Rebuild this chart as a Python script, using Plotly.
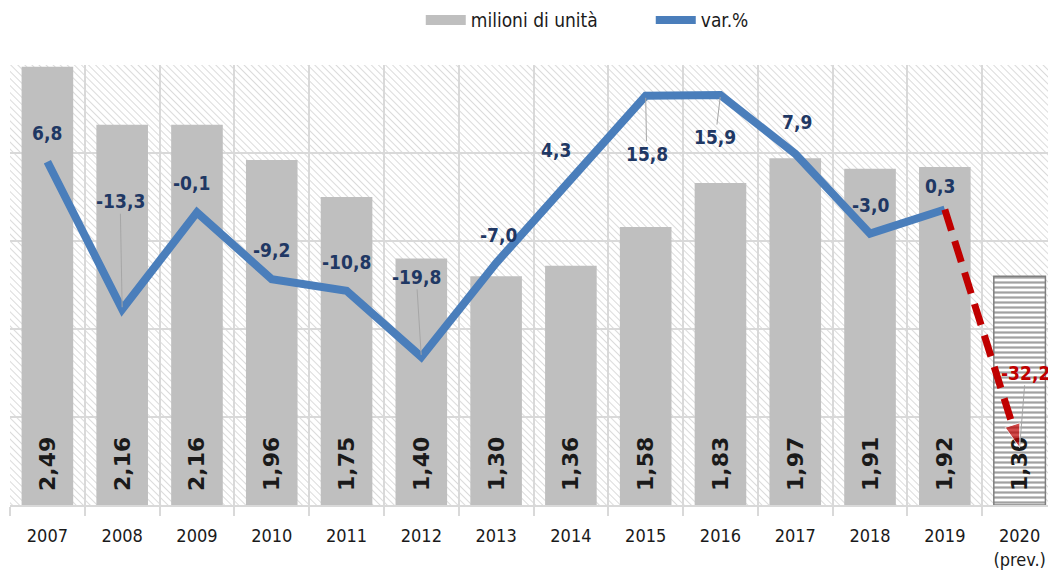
import base64
import plotly.graph_objects as go

# ---- data ----
years = ["2007", "2008", "2009", "2010", "2011", "2012", "2013", "2014",
         "2015", "2016", "2017", "2018", "2019", "2020<br>(prev.)"]
units_mln = [2.49, 2.16, 2.16, 1.96, 1.75, 1.40, 1.30, 1.36, 1.58, 1.83,
             1.97, 1.91, 1.92, 1.30]
var_pct = [6.8, -13.3, -0.1, -9.2, -10.8, -19.8, -7.0, 4.3, 15.8, 15.9,
           7.9, -3.0, 0.3, -32.2]

# label placement (pixel offsets) -- styling only
lab_dx = [0, -2, -5, 0, 0, -5, 2, -15, 1, -5, 2, 0, -5, 6]
lab_dy = [29, 108, 29, 29, 29, 80, 28, 30, -58, -42, 32, 29, 23, 75]
leader = [False, True, False, False, False, True, False, False, True, True,
          False, False, False, True]

n = len(years)
GRID = "#d9d9d9"
BAR = "#bfbfbf"
BLUE = "#4a7ebb"
RED = "#c00000"
NAVY = "#1f3864"
FONT = "DejaVu Sans Condensed"

def fmt(v, d):
    return f"{v:.{d}f}".replace(".", ",")

# hatched plot background as svg image
svg = ("<svg xmlns='http://www.w3.org/2000/svg' width='1047' height='440' "
       "viewBox='0 0 1047 440' preserveAspectRatio='none'><defs>"
       "<pattern id='h' width='5' height='5' patternUnits='userSpaceOnUse' "
       "patternTransform='rotate(-45)'><line x1='0' y1='0' x2='0' y2='5' "
       "stroke='#d2d2d2' stroke-width='1.6'/></pattern></defs>"
       "<rect width='100%' height='100%' fill='white'/>"
       "<rect width='100%' height='100%' fill='url(#h)'/></svg>")
svg_uri = "data:image/svg+xml;base64," + base64.b64encode(svg.encode()).decode()

fig = go.Figure()

last = n - 1
fig.add_trace(go.Bar(
    x=years, y=units_mln, name="milioni di unità", showlegend=False,
    marker=dict(
        color=[BAR] * last + ["white"],
        line=dict(color=["rgba(0,0,0,0)"] * last + ["#7f7f7f"],
                  width=[0] * last + [1.5]),
        pattern=dict(shape=[""] * last + ["-"], fgcolor="#a8a8a8",
                     size=5, solidity=0.45),
    ),
    text=["\u2002" + fmt(v, 2) for v in units_mln],
    textposition="inside", insidetextanchor="start", textangle=-90,
    textfont=dict(family="DejaVu Sans", size=22, color="#1a1a1a", weight="bold"),
    constraintext="none",
    hoverinfo="skip",
))

# legend entry for the bars (wide grey box, as in the reference)
fig.add_trace(go.Scatter(
    x=[None], y=[None], name="milioni di unità", mode="lines",
    line=dict(color=BAR, width=15), hoverinfo="skip",
))

fig.add_trace(go.Scatter(
    x=years[:last], y=var_pct[:last], yaxis="y2", name="var.%",
    mode="lines", line=dict(color=BLUE, width=8),
    hoverinfo="skip",
))

fig.add_trace(go.Scatter(
    x=years[last - 1:], y=var_pct[last - 1:], yaxis="y2", showlegend=False,
    mode="lines+markers",
    line=dict(color=RED, width=7, dash="22px,11px"),
    marker=dict(symbol="arrow", angleref="previous", size=[0, 25], color=RED),
    hoverinfo="skip",
))

annotations = []
for i, v in enumerate(var_pct):
    col = RED if i == last else NAVY
    f = dict(family=FONT, size=19, color=col, weight="bold")
    if leader[i]:
        annotations.append(dict(
            x=i, y=v, xref="x", yref="y2", text=fmt(v, 1), font=f,
            showarrow=True, arrowhead=0, arrowwidth=1, arrowcolor="#a6a6a6",
            ax=lab_dx[i], ay=-lab_dy[i], standoff=2,
        ))
    else:
        annotations.append(dict(
            x=i, y=v, xref="x", yref="y2", text=fmt(v, 1), font=f,
            showarrow=False, xshift=lab_dx[i], yshift=lab_dy[i],
        ))

fig.update_layout(
    width=1056, height=576,
    margin=dict(l=2, r=7, t=57, b=79, autoexpand=False),
    paper_bgcolor="white", plot_bgcolor="rgba(0,0,0,0)",
    bargap=0.31,
    showlegend=True,
    legend=dict(orientation="h", x=0.612, xanchor="center", y=1.102,
                yanchor="middle", font=dict(family=FONT, size=19, color="#1a1a1a"),
                itemwidth=40, entrywidth=175, entrywidthmode="pixels",
                traceorder="normal", bgcolor="rgba(0,0,0,0)"),
    xaxis=dict(type="category", tickson="boundaries", ticks="outside",
               ticklen=9, tickcolor=GRID, tickwidth=1.5,
               showgrid=True, gridcolor=GRID, gridwidth=1.5,
               showline=True, linecolor=GRID, linewidth=1.5,
               tickfont=dict(family=FONT, size=18, color="#1a1a1a"),
               ticklabelstandoff=14, automargin=False,
               range=[-0.5, n - 0.5]),
    yaxis=dict(range=[0, 2.5], dtick=0.5, showgrid=True, gridcolor=GRID,
               gridwidth=1.5, showticklabels=False, zeroline=False, ticks="",
               automargin=False),
    yaxis2=dict(range=[-40, 20], overlaying="y", side="right", showgrid=False,
                showticklabels=False, zeroline=False, ticks="", automargin=False),
    images=[dict(source=svg_uri, xref="paper", yref="paper", x=0, y=1,
                 sizex=1, sizey=1, sizing="stretch", layer="below",
                 xanchor="left", yanchor="top")],
    annotations=annotations,
)

fig.write_html("out.html")
